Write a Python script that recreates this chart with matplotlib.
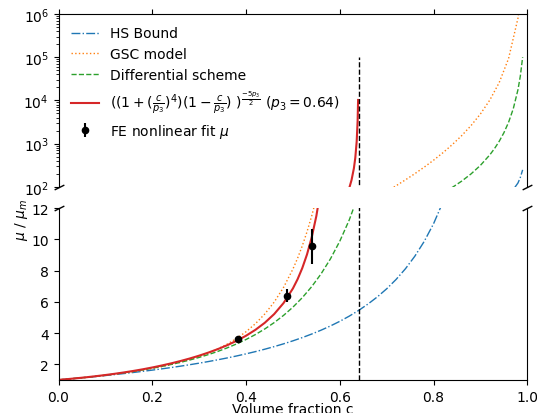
import matplotlib
matplotlib.use("Agg")
import matplotlib.pyplot as plt

# volume fractions for the HS bound
c_hs = [0, 0.02, 0.04, 0.06, 0.08, 0.1, 0.12, 0.14, 0.16, 0.18, 0.2, 0.22, 0.24, 0.26,
        0.28, 0.3, 0.32, 0.34, 0.36, 0.38, 0.4, 0.42, 0.44, 0.46, 0.48, 0.5, 0.52, 0.54,
        0.56, 0.58, 0.6, 0.62, 0.64, 0.66, 0.68, 0.7, 0.72, 0.74, 0.76, 0.78, 0.8, 0.82,
        0.84, 0.86, 0.88, 0.9, 0.92, 0.94, 0.96, 0.98, 0.985, 0.99]
hs_bound = [1, 1.051, 1.104, 1.160, 1.217, 1.278, 1.341, 1.407, 1.476, 1.549, 1.625, 1.705,
            1.789, 1.878, 1.972, 2.071, 2.176, 2.288, 2.406, 2.532, 2.667, 2.810, 2.964, 3.130,
            3.308, 3.5, 3.708, 3.935, 4.182, 4.452, 4.75, 5.079, 5.444, 5.853, 6.313, 6.833,
            7.429, 8.115, 8.917, 9.864, 11.0, 12.39, 14.13, 16.36, 19.33, 23.5, 29.75, 40.17,
            61.0, 123.5, 165.2, 248.5]

# differential scheme
c_ds = [0, 0.02, 0.04, 0.06, 0.08, 0.1, 0.12, 0.14, 0.16, 0.18, 0.2, 0.22, 0.24, 0.26,
        0.28, 0.3, 0.32, 0.34, 0.36, 0.38, 0.4, 0.42, 0.44, 0.46, 0.48, 0.5, 0.52, 0.54,
        0.56, 0.58, 0.6, 0.62, 0.64, 0.66, 0.68, 0.7, 0.72, 0.74, 0.76, 0.78, 0.8, 0.82,
        0.84, 0.86, 0.88, 0.9, 0.92, 0.93, 0.94, 0.95, 0.96, 0.97, 0.98, 0.985, 0.99]
diff_scheme = [1, 1.052, 1.107, 1.167, 1.232, 1.301, 1.377, 1.458, 1.546, 1.642, 1.747, 1.861,
               1.986, 2.123, 2.273, 2.439, 2.623, 2.826, 3.052, 3.304, 3.586, 3.903, 4.261,
               4.667, 5.129, 5.657, 6.265, 6.968, 7.787, 8.747, 9.882, 11.23, 12.86, 14.84,
               17.26, 20.29, 24.1, 29.01, 35.44, 44.05, 55.9, 72.75, 97.66, 136.4, 200.5, 316.2,
               552.4, 771.4, 1134, 1789, 3125, 6415, 1.768e4, 3.629e4, 1e5]

# GSC model
c_gsc = [0, 0.02, 0.04, 0.06, 0.08, 0.1, 0.12, 0.14, 0.16, 0.18, 0.2, 0.22, 0.24, 0.26,
         0.28, 0.3, 0.32, 0.34, 0.36, 0.38, 0.4, 0.42, 0.44, 0.46, 0.48, 0.5, 0.51, 0.52,
         0.53, 0.54, 0.55, 0.56, 0.58, 0.6, 0.62, 0.64, 0.66, 0.68, 0.7, 0.72, 0.74, 0.76,
         0.78, 0.8, 0.82, 0.84, 0.86, 0.88, 0.9, 0.92, 0.94, 0.96, 0.98, 0.985]
gsc_model = [1, 1.051, 1.105, 1.162, 1.224, 1.29, 1.362, 1.441, 1.527, 1.623, 1.729, 1.848,
             1.981, 2.132, 2.304, 2.5, 2.726, 2.988, 3.294, 3.655, 4.084, 4.598, 5.22, 5.98,
             6.921, 8.098, 8.795, 9.586, 10.48, 11.49, 12.64, 13.96, 17.18, 21.44, 27.13,
             34.77, 45.14, 59.34, 79, 106.5, 145.8, 202.6, 286.9, 415.6, 618.7, 953.6, 1537,
             2628, 4878, 1.021e4, 2.588e4, 9.319e4, 7.939e5, 1.911e6]

# fitted curve (p3 = 0.64)
c_fit = [0, 0.02, 0.04, 0.06, 0.08, 0.1, 0.12, 0.14, 0.16, 0.18, 0.2, 0.22, 0.24, 0.26, 0.28,
         0.3, 0.32, 0.34, 0.36, 0.38, 0.4, 0.42, 0.44, 0.46, 0.48, 0.5, 0.51, 0.52, 0.53,
         0.54, 0.55, 0.56, 0.57, 0.58, 0.6, 0.61, 0.62, 0.625, 0.63, 0.633, 0.636, 0.638, 0.639]
fit_vals = [1, 1.052, 1.109, 1.17, 1.238, 1.311, 1.391, 1.479, 1.575, 1.679, 1.794, 1.919,
            2.056, 2.206, 2.37, 2.551, 2.751, 2.973, 3.222, 3.504, 3.827, 4.205, 4.657, 5.213,
            5.919, 6.856, 7.45, 8.163, 9.03, 10.12, 11.50, 13.32, 15.80, 19.35, 33.8, 51.09,
            93.18, 144.1, 269, 469, 1131, 3396, 1.024e4]

# FE nonlinear fit points
fe_c = [0.383, 0.488, 0.541]
fe_mu = [3.63, 6.40, 9.55]
fe_err = [0.08, 0.40, 1.10]

p3 = 0.64

fig = plt.figure(figsize=(5.37, 4.14), dpi=100)
ax_top = fig.add_axes([0.109, 0.546, 0.873, 0.418])
ax_bot = fig.add_axes([0.109, 0.080, 0.873, 0.415])

red_label = r'$((1+(\frac{c}{p_3})^4)(1-\frac{c}{p_3})\ )^{\frac{-5p_3}{2}}\ (p_3=0.64)$'
for ax in (ax_top, ax_bot):
    ax.plot(c_hs, hs_bound, color='C0', ls='-.', lw=1, label='HS Bound')
    ax.plot(c_gsc, gsc_model, color='C1', ls=':', lw=1, label='GSC model')
    ax.plot(c_ds, diff_scheme, color='C2', ls='--', lw=1, label='Differential scheme')
    ax.plot(c_fit, fit_vals, color='C3', ls='-', lw=1.5, label=red_label)
    ax.vlines(p3, 1, 1e5, colors='k', linestyles='--', lw=1)
    ax.set_xlim(0, 1)

eb = ax_bot.errorbar(fe_c, fe_mu, yerr=fe_err, fmt='o', color='k', ms=4.5, elinewidth=1.5,
                     label=r'FE nonlinear fit $\mu$')

ax_top.set_yscale('log')
ax_top.set_ylim(1e2, 1e6)
ax_top.spines['bottom'].set_visible(False)
ax_top.xaxis.tick_top()
ax_top.tick_params(labeltop=False)
ax_top.set_xticks([0, 0.2, 0.4, 0.6, 0.8, 1.0])

ax_bot.set_ylim(1, 12)
ax_bot.set_yticks([2, 4, 6, 8, 10, 12])
ax_bot.set_xticks([0, 0.2, 0.4, 0.6, 0.8, 1.0])
ax_bot.spines['top'].set_visible(False)
ax_bot.xaxis.tick_bottom()
ax_bot.set_xlabel('Volume fraction c', labelpad=-1)

d = 0.5
kw = dict(marker=[(-1, -d), (1, d)], markersize=7, linestyle='none', color='k',
          mec='k', mew=1, clip_on=False)
ax_top.plot([0, 1], [0, 0], transform=ax_top.transAxes, **kw)
ax_bot.plot([0, 1], [1, 1], transform=ax_bot.transAxes, **kw)

h, l = ax_top.get_legend_handles_labels()
h.append(eb)
l.append(r'FE nonlinear fit $\mu$')
ax_top.legend(h, l, loc='upper left', frameon=False)

fig.text(0.040, 0.47, r'$\mu$ / $\mu_m$', rotation=90, va='center', ha='center', fontsize=10)

fig.savefig('out.png', dpi=100)
